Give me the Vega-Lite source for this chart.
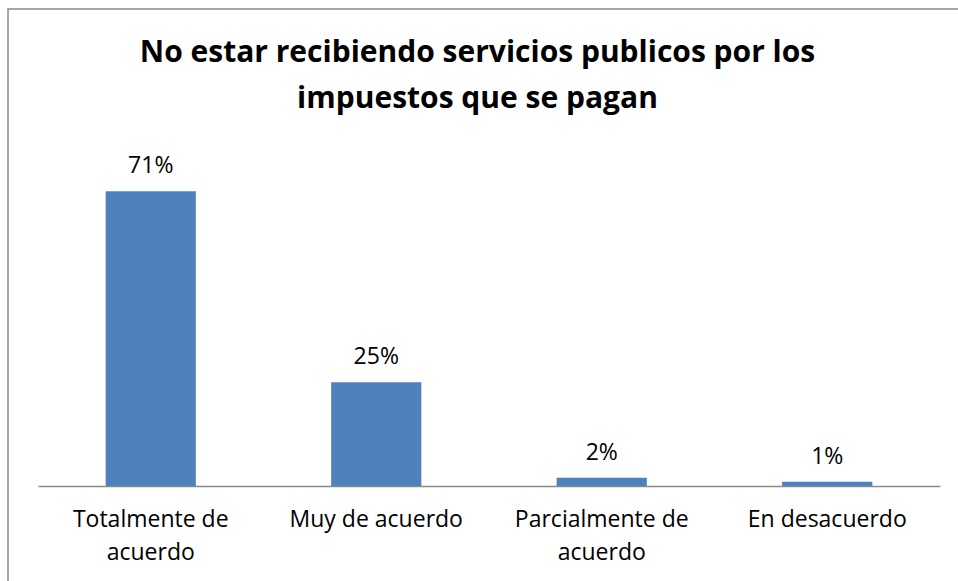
{
  "$schema": "https://vega.github.io/schema/vega-lite/v6.json",
  "autosize": {"type": "none"},
  "padding": {"left": 8, "top": 9, "right": 0, "bottom": 0},
  "width": 951,
  "height": 575,
  "background": "white",
  "config": {
    "view": {"stroke": "#8a8a8a", "strokeWidth": 1.5},
    "font": "Open Sans"
  },
  "title": {
    "text": ["No estar recibiendo servicios publicos por los", "impuestos que se pagan"],
    "font": "Open Sans",
    "fontSize": 30,
    "fontWeight": "bold",
    "color": "#000000",
    "lineHeight": 46,
    "anchor": "middle",
    "frame": "group",
    "orient": "top",
    "baseline": "alphabetic",
    "offset": -129,
    "dx": -6
  },
  "data": {
    "values": [
      {"categoria": "Totalmente de acuerdo", "valor": 0.71},
      {"categoria": "Muy de acuerdo", "valor": 0.25},
      {"categoria": "Parcialmente de acuerdo", "valor": 0.02},
      {"categoria": "En desacuerdo", "valor": 0.01}
    ]
  },
  "encoding": {
    "x": {
      "field": "categoria",
      "type": "nominal",
      "sort": null,
      "scale": {"range": [30, 932], "paddingInner": 0.6, "paddingOuter": 0.3},
      "axis": {
        "title": null,
        "labelAngle": 0,
        "offset": -98,
        "domainColor": "#8a8a8a",
        "domainWidth": 1.5,
        "ticks": false,
        "labelFont": "Open Sans",
        "labelFontSize": 23,
        "labelColor": "#000000",
        "labelPadding": 40,
        "labelLineHeight": 33,
        "labelBaseline": "alphabetic",
        "labelLimit": 300,
        "labelExpr": "datum.label == 'Totalmente de acuerdo' ? ['Totalmente de', 'acuerdo'] : datum.label == 'Parcialmente de acuerdo' ? ['Parcialmente de', 'acuerdo'] : datum.label"
      }
    },
    "y": {
      "field": "valor",
      "type": "quantitative",
      "scale": {"domain": [0, 0.8], "range": [477, 145], "nice": false},
      "axis": null
    }
  },
  "layer": [
    {"mark": {"type": "bar", "color": "#4F81BD"}},
    {
      "mark": {"type": "text", "baseline": "alphabetic", "dy": -18, "fontSize": 23, "font": "Open Sans", "color": "#000000"},
      "encoding": {"text": {"field": "valor", "type": "quantitative", "format": ".0%"}}
    }
  ]
}
